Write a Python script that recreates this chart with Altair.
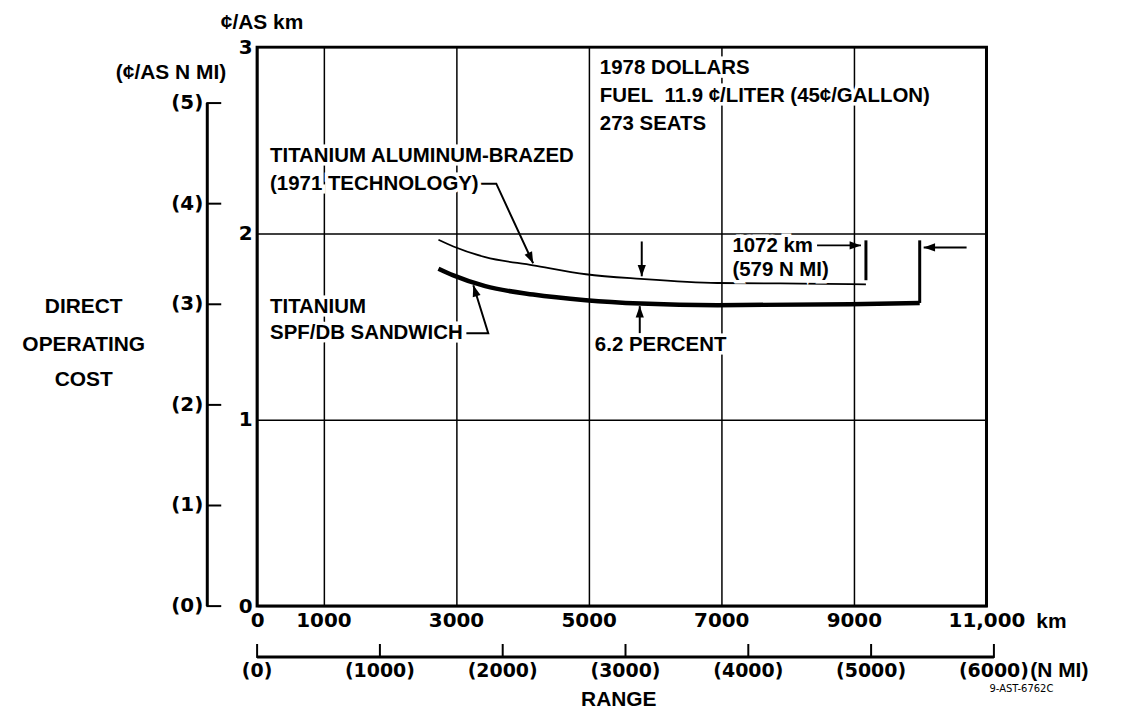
import altair as alt
import pandas as pd

KM_PER_NMI = 1.852

# ---- axis values ----
x_tick_km = [0, 1000, 3000, 5000, 7000, 9000, 11000]
y_tick_cost = [0, 1, 2, 3]
range_nmi_ticks = [0, 1000, 2000, 3000, 4000, 5000, 6000]
cost_nmi_ticks = [0, 1, 2, 3, 4, 5]

# ---- curves (range km, cents per available-seat km) ----
brazed_km = [2735, 2960, 3441, 4163, 4959, 5786, 6943, 8190, 9182]
brazed_cost = [1.966, 1.930, 1.873, 1.829, 1.781, 1.756, 1.734, 1.731, 1.727]
spf_km = [2735, 2960, 3441, 4163, 4959, 5786, 6943, 8941, 9993]
spf_cost = [1.811, 1.775, 1.717, 1.672, 1.642, 1.624, 1.615, 1.620, 1.627]

# ---- annotation texts (left aligned, in data coordinates) ----
note_text = ["TITANIUM ALUMINUM-BRAZED", "(1971 TECHNOLOGY)", "TITANIUM",
             "SPF/DB SANDWICH", "6.2 PERCENT", "1072 km", "(579 N MI)",
             "1978 DOLLARS", "FUEL\u00a0 11.9 \u00a2/LITER (45\u00a2/GALLON)", "273 SEATS"]
note_km = [195, 195, 195, 195, 5094, 7168, 7168, 5169, 5169, 5169]
note_cost = [2.417, 2.267, 1.604, 1.465, 1.401, 1.930, 1.802, 2.888, 2.738, 2.588]

# ---- leader polylines ----
leader_id = ["a", "a", "a", "b", "b", "b"]
leader_km = [3336, 3607, 4163, 3156, 3486, 3261]
leader_cost = [2.267, 2.267, 1.840, 1.465, 1.465, 1.722]

# ---- straight arrows: start -> tip ----
arrow_km0 = [5801, 5771, 8445, 10700]
arrow_cost0 = [1.957, 1.465, 1.936, 1.925]
arrow_km1 = [5801, 5771, 9107, 10053]
arrow_cost1 = [1.770, 1.610, 1.936, 1.925]
arrow_angle = [180, 0, 90, 270]

# arrow heads of the leaders
head_km = [4163, 3261]
head_cost = [1.840, 1.722]
head_angle = [155, 343]

# ---- end-of-range bars ----
bar_km = [9182, 9993]
bar_cost0 = [1.963, 1.963]
bar_cost1 = [1.749, 1.627]

W, H = 732, 561
TXT = "Liberation Sans"
NUM = "DejaVu Sans"

xs = alt.Scale(domain=[0, 11000], nice=False, zero=False)
ys = alt.Scale(domain=[0, 3], nice=False, zero=False)

x_axis = alt.Axis(values=x_tick_km, grid=True, gridColor="black", gridWidth=1.5,
                  gridOpacity=1, ticks=False, domain=False, labelFlush=False,
                  labelPadding=4, labelFont=NUM, labelFontSize=20, labelFontWeight="bold",
                  labelColor="black", title=None,
                  labelExpr="datum.value >= 10000 ? format(datum.value, ',') : format(datum.value, 'd')")
y_axis = alt.Axis(values=y_tick_cost, grid=True, gridColor="black", gridWidth=1.5,
                  gridOpacity=1, ticks=False, domain=False, labelFlush=False,
                  labelPadding=5, labelFont=NUM, labelFontSize=20, labelFontWeight="bold",
                  labelColor="black", title=None)


def X(f):
    return alt.X(f, type="quantitative", scale=xs, axis=x_axis)


def Y(f):
    return alt.Y(f, type="quantitative", scale=ys, axis=y_axis)


brazed = pd.DataFrame({"km": brazed_km, "cost": brazed_cost})
spf = pd.DataFrame({"km": spf_km, "cost": spf_cost})

thin = alt.Chart(brazed).mark_line(color="black", strokeWidth=1.8, interpolate="monotone").encode(
    x=X("km"), y=Y("cost"))
thick = alt.Chart(spf).mark_line(color="black", strokeWidth=4.5, interpolate="monotone").encode(
    x=X("km"), y=Y("cost"))

bars = alt.Chart(pd.DataFrame({"km": bar_km, "c0": bar_cost0, "c1": bar_cost1})).mark_rule(
    color="black", strokeWidth=3).encode(x=X("km"), y=Y("c0"), y2="c1")

leaders = alt.Chart(pd.DataFrame({"g": leader_id, "km": leader_km, "cost": leader_cost,
                                  "o": list(range(len(leader_id)))})).mark_line(
    color="black", strokeWidth=2).encode(x=X("km"), y=Y("cost"), detail="g:N", order="o:Q")

shafts = alt.Chart(pd.DataFrame({"k0": arrow_km0, "c0": arrow_cost0,
                                 "k1": arrow_km1, "c1": arrow_cost1})).mark_rule(
    color="black", strokeWidth=2).encode(x=X("k0"), x2="k1", y=Y("c0"), y2="c1")

HEAD = "M0,0L-0.36,1L0.36,1Z"
heads_df = pd.DataFrame({"km": arrow_km1 + head_km, "cost": arrow_cost1 + head_cost,
                         "ang": arrow_angle + head_angle})
heads = alt.Chart(heads_df).mark_point(shape=HEAD, filled=True, color="black",
                                       opacity=1, size=520).encode(
    x=X("km"), y=Y("cost"), angle=alt.Angle("ang:Q", scale=None))

notes_df = pd.DataFrame({"t": note_text, "km": note_km, "cost": note_cost})
halo = alt.Chart(notes_df).mark_text(align="left", baseline="middle", font=TXT,
                                     fontSize=20.5, fontWeight="bold", color="white",
                                     stroke="white", strokeWidth=7).encode(
    x=X("km"), y=Y("cost"), text="t:N")
notes = alt.Chart(notes_df).mark_text(align="left", baseline="middle", font=TXT,
                                      fontSize=20.5, fontWeight="bold", color="black").encode(
    x=X("km"), y=Y("cost"), text="t:N")

# ---- secondary cost axis (cents per available-seat nautical mile) ----
ynm = pd.DataFrame({"v": cost_nmi_ticks})
ynm_line = alt.Chart(pd.DataFrame({"lo": [min(cost_nmi_ticks)], "hi": [max(cost_nmi_ticks)]})).transform_calculate(
    a=f"datum.lo / {KM_PER_NMI}", b=f"datum.hi / {KM_PER_NMI}").mark_rule(
    color="black", strokeWidth=3).encode(x=alt.value(-50), y=Y("a:Q"), y2="b:Q")
ynm_ticks = alt.Chart(ynm).transform_calculate(c=f"datum.v / {KM_PER_NMI}").mark_rule(
    color="black", strokeWidth=2).encode(x=alt.value(-51), x2=alt.value(-36), y=Y("c:Q"))
ynm_labels = alt.Chart(ynm).transform_calculate(
    c=f"datum.v / {KM_PER_NMI}", t="'(' + datum.v + ')'").mark_text(
    align="right", baseline="middle", font=NUM, fontSize=20, fontWeight="bold",
    color="black", dx=-4).encode(x=alt.value(-50), y=Y("c:Q"), text="t:N")

# ---- secondary range axis (nautical miles) ----
xnm = pd.DataFrame({"v": range_nmi_ticks})
xnm_line = alt.Chart(pd.DataFrame({"lo": [min(range_nmi_ticks)], "hi": [max(range_nmi_ticks)]})).transform_calculate(
    a=f"datum.lo * {KM_PER_NMI}", b=f"datum.hi * {KM_PER_NMI}").mark_rule(
    color="black", strokeWidth=3).encode(y=alt.value(612), x=X("a:Q"), x2="b:Q")
xnm_ticks = alt.Chart(xnm).transform_calculate(k=f"datum.v * {KM_PER_NMI}").mark_rule(
    color="black", strokeWidth=2).encode(y=alt.value(599), y2=alt.value(613), x=X("k:Q"))
xnm_labels = alt.Chart(xnm).transform_calculate(
    k=f"datum.v * {KM_PER_NMI}", t="'(' + datum.v + ')'").mark_text(
    align="center", baseline="middle", font=NUM, fontSize=19, fontWeight="bold",
    color="black").encode(x=X("k:Q"), y=alt.value(626), text="t:N")

dummy = pd.DataFrame({"d": [0]})


def label(text, px, py, align="left", size=21, font=TXT, weight="bold"):
    return alt.Chart(dummy).mark_text(text=text, align=align, baseline="middle",
                                      font=font, fontSize=size, fontWeight=weight,
                                      color="black").encode(x=alt.value(px), y=alt.value(py))


labels = [
    label("\u00a2/AS km", 5, -24, align="center"),
    label("(\u00a2/AS N MI)", -31, 26, align="right"),
    label("DIRECT", -174, 261, align="center"),
    label("OPERATING", -174, 299, align="center"),
    label("COST", -174, 334, align="center"),
    label("km", 782, 577),
    label("(N MI)", 776, 626),
    label("RANGE", 363, 655, align="center"),
    label("9-AST-6762C", 735, 644, size=10, font=NUM, weight="normal"),
]

chart = alt.layer(
    thin, thick, bars, leaders, shafts, heads, halo, notes,
    ynm_line, ynm_ticks, ynm_labels, xnm_line, xnm_ticks, xnm_labels, *labels
).properties(
    width=W, height=H,
    autosize=alt.AutoSizeParams(type="none"),
    padding={"left": 250, "top": 38, "right": 134, "bottom": 104},
).configure(background="white").configure_view(stroke="black", strokeWidth=3)

chart.save("out.html", embed_options={"renderer": "svg", "actions": False})
